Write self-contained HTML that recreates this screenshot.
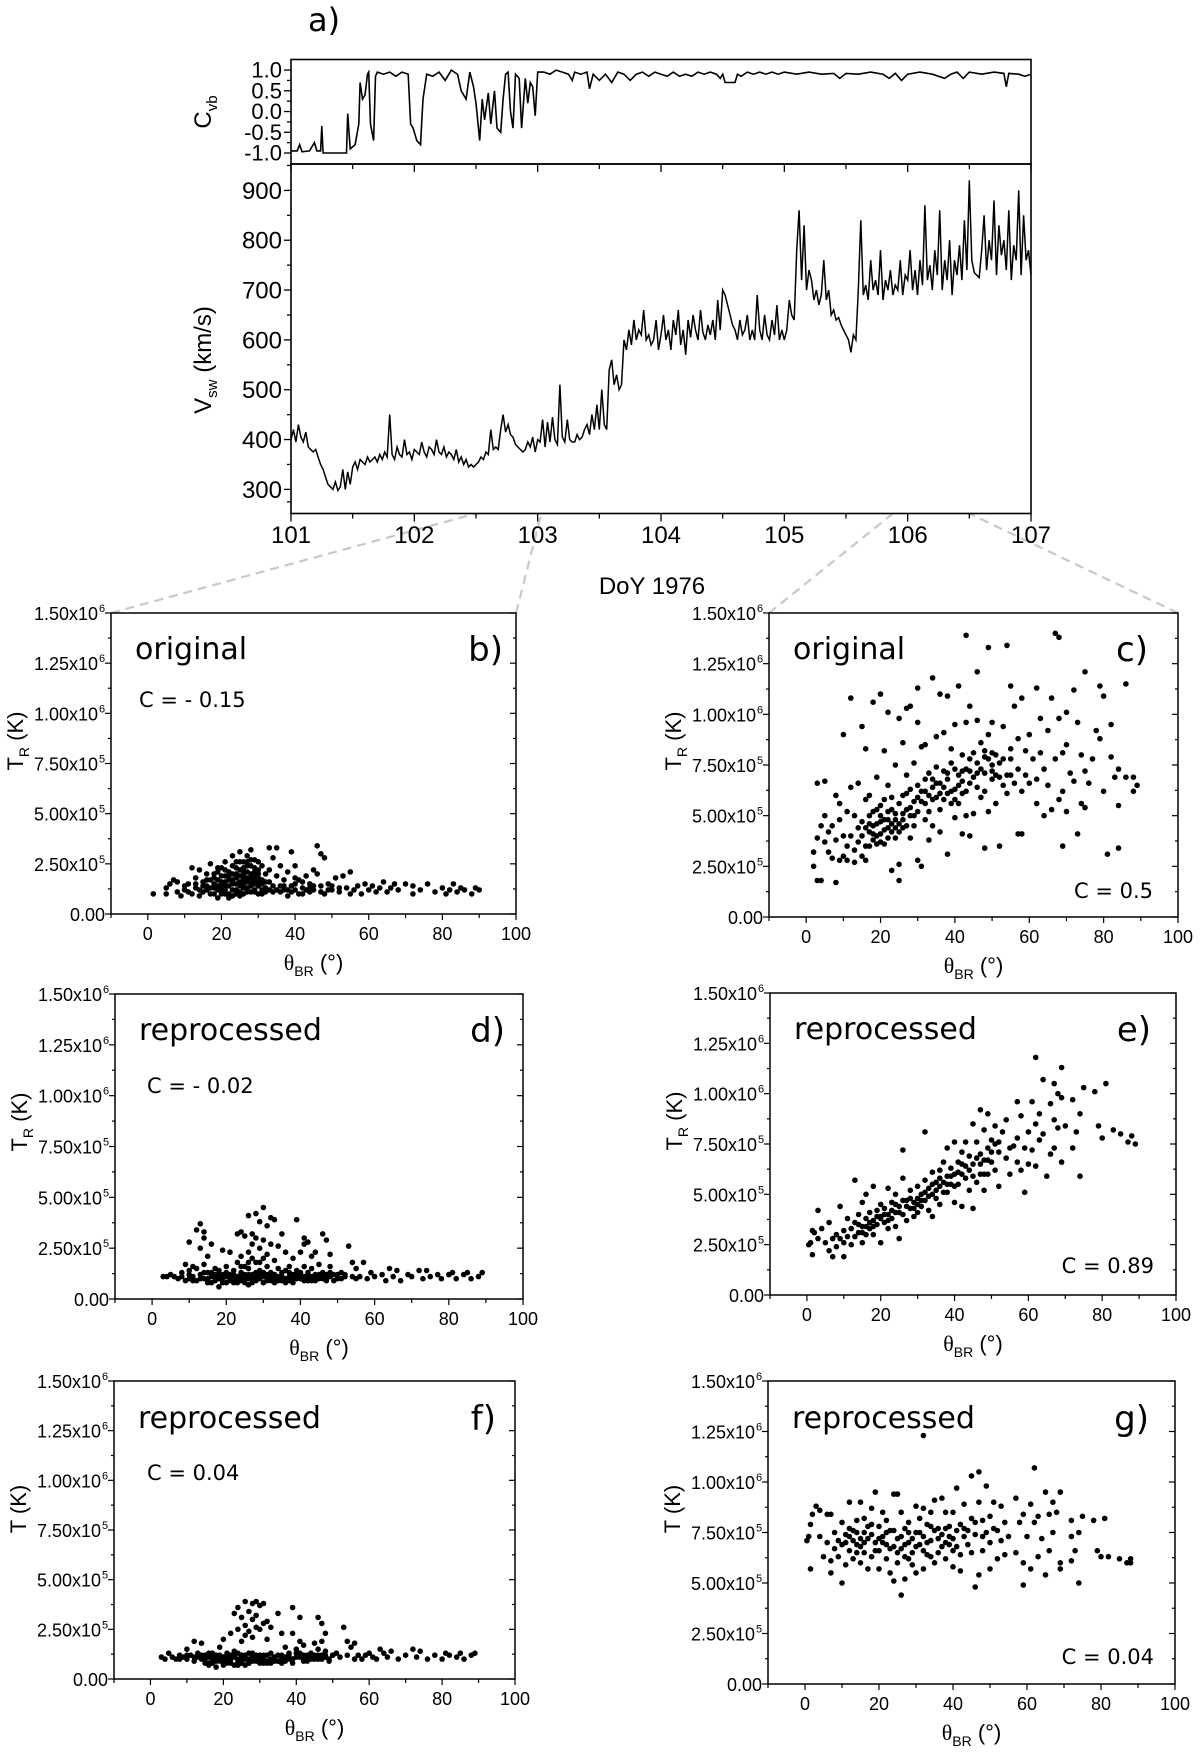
<!DOCTYPE html>
<html><head><meta charset="utf-8"><style>
html,body{margin:0;padding:0;background:#fff;}
svg{display:block;font-family:"Liberation Sans",Arial,sans-serif;}
</style></head><body>
<svg id="fig" width="1200" height="1756" viewBox="0 0 1200 1756" xmlns="http://www.w3.org/2000/svg"></svg>
<script>
// ---------- DATA: panel a ----------
const vswStart = 101, vswStep = 0.02;
const vswValues = [
400,420,395,430,405,395,415,385,380,375,380,365,350,340,325,310,305,300,315,298,305,340,300,335,310,345,355,340,360,355,350,365,355,360,365,355,370,360,375,365,450,370,360,385,370,365,400,370,375,360,
380,375,370,395,375,365,385,380,370,400,375,370,385,365,375,370,360,380,355,365,350,360,345,350,345,350,355,365,360,375,370,420,380,385,380,420,450,415,430,410,405,390,385,380,375,380,395,385,405,375,
400,395,440,385,435,395,445,400,390,510,405,395,440,400,395,395,410,400,405,420,430,410,450,420,470,420,500,430,420,540,560,510,530,500,510,600,580,620,590,640,600,620,610,660,600,610,590,600,640,580,
610,650,600,620,580,640,610,660,590,620,570,640,605,650,620,600,660,615,600,630,610,640,600,680,620,700,690,670,650,630,620,600,640,610,620,650,600,620,600,690,620,600,650,610,600,640,610,670,600,620,
600,620,680,650,640,780,860,720,830,700,740,720,680,700,670,690,760,680,700,650,660,640,645,630,620,610,600,575,610,600,700,840,690,710,680,760,700,720,690,780,680,720,700,740,690,710,700,760,690,730,
720,780,700,740,690,760,710,870,720,750,700,780,730,860,700,760,720,800,690,760,730,790,720,840,740,920,760,735,730,725,780,850,740,800,760,880,730,830,770,800,740,860,720,790,760,900,730,850,760,780,
730];
const cvbTimes = [101,101.05,101.07,101.09,101.15,101.19,101.21,101.24,101.25,101.26,101.45,101.46,101.48,101.52,101.55,101.56,101.58,101.6,101.62,101.63,101.645,101.67,101.685,101.7,101.75,101.8,101.85,101.9,101.95,101.97,101.99,102.02,102.05,102.07,102.1,102.15,102.2,102.25,102.3,102.35,102.38,102.42,102.45,102.48,102.5,102.53,102.55,102.57,102.6,102.62,102.65,102.67,102.7,102.72,102.74,102.76,102.78,102.8,102.82,102.85,102.87,102.9,102.92,102.94,102.96,102.98,103,103.05,103.1,103.15,103.2,103.25,103.28,103.3,103.35,103.4,103.42,103.45,103.5,103.55,103.6,103.65,103.7,103.75,103.8,103.85,103.9,103.95,104,104.05,104.1,104.15,104.2,104.25,104.3,104.35,104.4,104.45,104.48,104.5,104.52,104.6,104.62,104.65,104.7,104.75,104.8,104.85,104.9,104.95,105,105.1,105.2,105.3,105.4,105.45,105.5,105.6,105.7,105.8,105.85,105.9,105.95,106,106.1,106.2,106.3,106.35,106.4,106.45,106.5,106.6,106.7,106.78,106.8,106.82,106.9,106.95,107];
const cvbValues = [-0.95,-0.95,-0.8,-0.97,-0.95,-0.75,-0.95,-0.95,-0.35,-1,-1,-0.05,-0.9,-0.8,-0.3,0.7,0.3,0.4,0.9,0.95,-0.3,-0.7,0.85,0.95,0.9,0.95,0.85,0.95,0.9,-0.3,-0.4,-0.7,-0.8,0.3,0.9,0.85,0.95,0.75,1,0.9,0.5,0.3,0.95,0.6,0.2,-0.7,0.3,-0.2,0.45,-0.3,0.5,-0.4,-0.5,0.3,0.9,0.95,0,-0.4,0.9,0.8,-0.4,0.8,0.2,0.7,0.6,-0.1,0.95,0.95,0.9,1,0.95,0.9,0.75,0.95,0.9,0.95,0.55,0.9,0.75,0.9,0.7,0.95,0.9,0.75,0.9,0.95,0.85,0.95,0.9,0.85,0.95,0.85,0.9,0.85,0.95,0.9,0.95,0.9,0.8,0.9,0.7,0.7,0.9,0.85,0.95,0.9,0.95,0.9,0.95,0.9,0.95,0.9,0.95,0.9,0.92,0.8,0.92,0.9,0.95,0.9,0.8,0.92,0.75,0.9,0.95,0.9,0.8,0.9,0.95,0.8,0.95,0.9,0.95,0.92,0.6,0.92,0.9,0.85,0.9];
const dayTicks = [101,102,103,104,105,106,107];
const vTicks = [300,400,500,600,700,800,900];
const cvbTicks = [-1,-0.5,0,0.5,1];
const cvbTickLabels = ["-1.0","-0.5","0.0","0.5","1.0"];

// ---------- DATA: scatter panels (theta_BR deg, T in 1e5 K) ----------
const bPts = [[1.5,1.0],[5,1.0],[5,1.3],[6,1.5],[7,1.7],[8,1.6],[8,1.1],[9,0.9],[10,1.4],[10,1.2],[11,1.5],[12,1.0],[12,2.3],[13,1.8],[13,1.3],[14,2.2],[14,0.9],[15,1.6],[15,1.1],[16,2.0],[16,1.4],[17,2.5],[17,1.0],[18,1.8],[18,1.3],[19,2.1],[19,0.8],[20,1.6],[20,1.2],[20,2.3],[21,1.0],[21,1.9],[21,2.6],[22,1.4],[22,0.8],[22,2.1],[23,1.7],[23,1.2],[23,2.9],[24,1.0],[24,2.3],[24,1.5],[25,1.9],[25,3.1],[25,0.9],[26,2.6],[26,1.3],[26,1.7],[27,2.9],[27,2.1],[27,1.1],[28,2.4],[28,1.6],[28,3.2],[29,1.9],[29,1.2],[29,2.7],[30,2.2],[30,1.4],[31,1.7],[31,1.0],[32,2.0],[32,1.3],[33,3.3],[33,1.6],[34,2.8],[34,1.1],[35,1.9],[35,3.3],[36,1.4],[36,2.4],[37,1.2],[37,1.7],[38,2.1],[38,0.9],[39,3.1],[39,1.4],[40,1.2],[40,2.4],[41,1.7],[41,1.0],[42,1.3],[43,1.9],[44,1.1],[44,1.5],[45,2.2],[45,1.2],[46,2.0],[46,3.4],[47,3.0],[47,1.4],[48,2.8],[48,1.0],[49,1.5],[50,1.2],[51,1.8],[52,1.1],[53,1.9],[54,1.3],[55,2.1],[55,1.0],[57,1.4],[58,1.0],[59,1.5],[60,1.2],[61,1.4],[62,1.1],[63,1.3],[64,1.6],[65,1.1],[66,1.3],[67,1.5],[68,1.2],[70,1.5],[72,1.0],[72,1.4],[74,1.2],[76,1.5],[78,1.1],[80,1.3],[81,1.0],[82,1.2],[83,1.5],[84,1.1],[85,1.3],[86,1.2],[88,1.0],[89,1.3],[90,1.2],
[18,1.5],[19,1.7],[20,1.9],[21,1.4],[22,1.7],[23,2.0],[24,1.8],[25,1.4],[26,2.1],[27,1.6],[28,2.0],[29,2.3],[30,1.8],[31,2.4],[19,1.2],[21,1.2],[23,1.5],[25,1.6],[27,1.8],[29,1.5],[24,2.6],[26,2.3],[28,2.7],[30,2.6],
[16,1.2],[17,1.7],[18,1.0],[19,1.4],[20,1.0],[20,1.4],[21,1.6],[21,2.2],[22,1.0],[22,1.9],[23,0.9],[23,2.4],[24,1.2],[24,2.0],[25,1.1],[25,2.2],[25,2.6],[26,1.0],[26,1.5],[26,1.9],[27,1.3],[27,2.4],[27,2.6],[28,1.1],[28,1.4],[28,1.8],[29,1.1],[29,1.7],[29,2.1],[30,1.0],[30,1.6],[30,2.0],[31,1.2],[31,1.5],[32,1.1],[32,1.6],[33,1.2],[33,2.2],[34,1.4],[35,1.2],[36,1.1],[37,1.4],[38,1.2],[39,1.1],[40,1.5],[42,1.0],[43,1.2],[45,1.4],[47,1.1],[49,1.2],[11,1.1],[13,1.5],[14,1.2],[15,1.4],[16,1.7],[17,1.3],[18,2.0],[19,2.3],[40,1.8],[42,1.6],[44,1.3],[50,1.4],[52,1.3],[56,1.2]];
const cPts = [[2,2.5],[2,3.2],[3,1.8],[3,3.9],[3,6.6],[4,4.5],[4,1.8],[5,5.0],[5,3.7],[5,6.7],[6,4.2],[6,3.2],[7,2.9],[7,4.5],[8,1.7],[8,3.8],[8,6.0],[9,2.8],[9,4.8],[9,5.6],[10,3.0],[10,4.0],[10,9.0],[11,2.8],[11,5.2],[11,3.5],[12,10.8],[12,4.0],[12,6.4],[13,2.7],[13,3.3],[13,5.0],[14,4.4],[14,3.7],[14,6.6],[15,9.4],[15,3.0],[15,4.7],[16,5.8],[16,2.8],[16,8.3],[17,4.2],[17,3.5],[17,6.0],[18,10.6],[18,5.2],[18,3.8],[19,4.6],[19,6.9],[19,3.6],[20,5.5],[20,11.0],[20,4.1],[21,3.6],[21,5.8],[21,8.2],[22,4.8],[22,6.5],[22,10.1],[23,4.2],[23,2.3],[23,5.9],[24,3.9],[24,7.5],[24,5.1],[25,9.8],[25,4.6],[25,2.6],[25,1.8],[26,8.6],[26,6.0],[26,4.4],[27,10.3],[27,5.3],[27,7.0],[28,10.4],[28,3.9],[28,6.3],[29,5.0],[29,7.6],[29,4.5],[30,11.3],[30,9.6],[30,2.8],[30,6.5],[31,5.7],[31,8.4],[31,2.5],[32,6.8],[32,4.8],[32,8.5],[33,5.2],[33,7.1],[33,3.8],[34,11.8],[34,6.4],[34,4.5],[35,8.9],[35,5.9],[35,7.4],[36,11.0],[36,6.6],[36,4.2],[37,9.1],[37,5.8],[37,7.2],[38,10.9],[38,3.1],[38,6.1],[39,8.3],[39,5.6],[39,7.6],[40,9.5],[40,6.3],[40,4.9],[41,11.4],[41,7.0],[41,5.6],[42,8.0],[42,6.1],[42,4.1],[43,13.9],[43,9.6],[43,7.3],[43,5.0],[44,10.4],[44,6.6],[44,4.0],[45,8.1],[45,5.1],[46,12.1],[46,9.7],[46,7.1],[47,5.9],[47,8.6],[48,3.4],[48,7.9],[48,6.2],[49,13.3],[49,9.0],[49,5.2],[50,6.8],[50,9.6],[50,7.5],[51,8.0],[51,5.6],[52,3.5],[52,6.9],[53,9.4],[53,7.8],[54,13.4],[54,6.1],[55,11.4],[55,8.3],[55,7.0],[56,10.4],[56,6.6],[57,8.8],[57,4.1],[58,10.8],[58,4.1],[58,6.2],[59,8.2],[59,7.0],[60,9.0],[60,6.6],[61,7.8],[62,11.3],[62,6.8],[62,5.6],[63,9.8],[63,8.1],[64,5.0],[64,7.3],[65,6.5],[65,9.2],[66,10.8],[66,5.3],[67,14.0],[67,7.8],[68,13.8],[68,9.8],[68,5.8],[69,8.1],[69,3.5],[69,6.2],[70,10.1],[70,8.5],[70,5.2],[71,7.1],[72,11.2],[72,6.7],[73,9.6],[73,4.1],[74,8.0],[74,5.6],[75,12.1],[75,7.2],[75,5.4],[76,6.6],[77,7.8],[78,9.2],[79,11.4],[79,8.8],[80,10.9],[80,6.2],[81,3.1],[82,9.5],[82,7.9],[83,6.9],[84,5.5],[84,3.4],[84,7.3],[86,11.5],[86,6.9],[88,6.2],[88,6.9],[89,6.5],
[16,4.4],[17,5.0],[18,4.5],[19,5.3],[20,4.7],[21,4.3],[22,5.2],[23,4.6],[24,4.4],[26,5.1],[28,5.4],[30,5.9],[32,6.2],[34,6.8],[36,6.1],[38,6.8],[40,7.3],[42,7.2],[44,7.8],[46,6.4],[48,7.1],[50,8.1],[52,7.6],[54,7.0],
[15,4.0],[16,3.5],[17,4.6],[18,4.1],[19,4.0],[20,3.7],[20,5.0],[21,4.8],[22,4.4],[22,3.9],[23,5.3],[24,4.8],[25,5.6],[25,4.2],[26,4.8],[27,4.5],[27,6.1],[28,5.0],[29,5.7],[30,5.2],[31,6.2],[32,5.6],[33,6.0],[34,5.8],[35,6.6],[36,5.3],[37,6.4],[38,7.1],[39,6.2],[40,5.8],[41,6.5],[42,6.7],[43,6.2],[44,7.2],[45,6.9],[46,7.6],[47,7.3],[48,8.2],[49,7.8],[50,7.2],[51,7.0],[53,6.5],[55,7.8],[57,7.3]];
const dPts = [[3,1.1],[4,1.1],[5,1.2],[6,1.1],[7,1.0],[8,1.1],[8,1.3],[9,1.7],[9,0.9],[10,2.8],[10,1.4],[10,1.0],[11,1.6],[11,1.1],[12,3.4],[12,1.5],[12,0.9],[13,3.7],[13,2.5],[13,1.2],[14,3.3],[14,3.0],[14,1.7],[14,1.0],[15,2.1],[15,1.3],[15,0.8],[16,2.7],[16,1.1],[17,1.5],[17,0.9],[18,1.2],[18,0.6],[19,2.4],[19,1.0],[20,1.6],[20,0.8],[21,2.3],[21,1.2],[22,1.4],[22,0.8],[23,3.2],[23,1.0],[23,1.8],[24,3.3],[24,2.1],[24,1.3],[25,3.1],[25,1.6],[25,0.8],[26,4.1],[26,2.3],[26,1.2],[27,3.2],[27,2.7],[27,1.0],[28,4.2],[28,3.0],[28,1.8],[28,0.9],[29,3.8],[29,2.5],[29,1.4],[30,4.5],[30,2.9],[30,2.0],[30,1.1],[31,3.6],[31,2.2],[31,0.9],[32,4.0],[32,2.7],[32,1.3],[33,3.9],[33,1.9],[33,1.0],[34,2.6],[34,1.5],[35,3.2],[35,1.1],[36,2.3],[36,1.4],[37,1.6],[37,0.9],[38,2.0],[38,1.2],[39,3.9],[39,1.4],[40,2.3],[40,1.0],[41,3.0],[41,1.6],[41,2.7],[42,2.8],[42,1.1],[43,2.1],[43,1.5],[44,2.3],[44,1.0],[45,1.7],[46,1.3],[46,3.2],[47,2.9],[47,1.0],[48,2.2],[48,1.6],[49,1.2],[50,1.0],[51,1.3],[52,1.1],[53,2.6],[54,1.8],[55,1.5],[56,1.1],[57,1.8],[58,1.0],[59,1.3],[60,1.1],[62,1.2],[63,0.9],[64,1.5],[65,1.1],[66,1.4],[67,0.9],[69,1.2],[70,1.1],[72,1.4],[73,1.0],[74,1.4],[75,1.1],[77,1.2],[78,1.0],[80,1.2],[81,1.3],[82,1.0],[84,1.2],[85,1.3],[86,1.0],[88,1.1],[89,1.3],
[15,1.0],[17,1.1],[19,1.2],[21,0.9],[23,1.1],[25,1.2],[27,0.8],[29,1.0],[31,1.2],[33,0.8],[35,0.9],[37,1.1],[39,1.0],[41,1.1],[43,0.9],[45,1.0],[47,1.2],[49,0.9],[16,0.8],[18,1.0],[20,1.1],[22,1.2],[24,0.9],[26,0.7],[28,1.3],[30,0.8],[32,0.9],[34,1.1],[36,0.8],[38,1.0],[40,1.3],[42,0.9],[44,1.2],[46,1.0],[48,1.1],[50,1.2],
[10,1.2],[11,0.9],[13,1.0],[14,1.3],[16,1.3],[17,1.2],[18,1.4],[19,0.8],[20,1.3],[21,1.0],[22,1.0],[23,0.8],[24,1.1],[25,1.0],[26,1.0],[26,1.5],[27,1.2],[28,1.1],[29,1.2],[30,1.3],[31,1.0],[32,1.1],[33,1.2],[34,0.9],[35,1.3],[36,1.0],[37,1.3],[38,0.8],[39,1.2],[40,1.1],[41,0.9],[42,1.3],[43,1.1],[44,0.9],[45,1.2],[46,1.1],[47,0.9],[48,1.3],[51,1.0],[52,1.2],[54,1.1],[55,1.0],[26,1.8],[27,2.0],[29,1.8],[31,1.6],[24,1.6]];
const ePts = [[0.5,2.5],[1,2.6],[1.5,3.2],[1.5,2.0],[2,3.1],[3,4.2],[3,2.8],[4,3.3],[5,2.6],[6,3.6],[6,2.2],[7,2.8],[7,1.9],[8,3.0],[8,2.4],[9,4.4],[9,2.8],[10,3.2],[10,1.9],[10,2.6],[11,3.8],[11,2.9],[12,3.3],[12,2.5],[13,5.7],[13,3.6],[13,2.9],[14,3.1],[14,4.0],[15,4.6],[15,3.4],[15,2.6],[16,5.0],[16,3.8],[16,3.0],[17,4.1],[17,3.3],[18,5.4],[18,3.7],[18,3.0],[19,4.2],[19,3.5],[20,3.9],[20,2.6],[20,4.5],[21,4.3],[21,3.6],[22,5.3],[22,4.0],[22,3.3],[23,4.6],[23,3.8],[24,5.0],[24,4.1],[24,3.4],[25,4.4],[25,2.8],[26,7.2],[26,5.8],[26,4.0],[27,4.7],[27,3.7],[28,5.2],[28,4.3],[29,4.6],[29,3.9],[30,5.4],[30,4.8],[30,4.1],[31,5.0],[31,4.4],[32,8.1],[32,5.7],[32,4.7],[33,5.3],[33,4.2],[34,6.1],[34,5.0],[34,3.9],[35,5.6],[35,4.8],[36,6.2],[36,5.4],[36,4.5],[37,6.6],[37,5.1],[38,7.3],[38,5.9],[38,5.1],[39,6.3],[39,5.5],[40,7.6],[40,6.0],[40,4.6],[41,6.6],[41,5.5],[42,7.1],[42,4.4],[42,6.0],[43,7.6],[43,5.8],[44,6.9],[44,5.2],[45,8.5],[45,6.5],[45,4.3],[46,7.6],[46,5.6],[47,9.2],[47,7.0],[47,6.0],[48,8.2],[48,6.7],[48,5.2],[49,9.0],[49,7.3],[49,6.0],[50,7.7],[50,6.6],[51,8.4],[51,7.5],[51,6.2],[52,7.1],[52,5.4],[53,8.1],[54,8.7],[54,6.8],[55,7.3],[55,6.0],[56,7.4],[57,9.6],[57,7.8],[57,6.6],[58,8.9],[58,6.2],[59,7.3],[59,5.1],[60,8.1],[60,6.5],[61,9.6],[61,7.2],[62,8.5],[62,6.4],[62,11.8],[63,9.0],[63,7.7],[64,10.7],[64,8.0],[65,5.9],[66,9.5],[66,7.0],[67,10.5],[67,8.7],[67,7.3],[68,10.0],[68,8.3],[69,11.3],[69,9.8],[69,6.6],[70,8.4],[72,9.7],[72,7.3],[73,8.1],[74,9.0],[74,5.9],[75,10.3],[78,10.1],[79,8.4],[80,7.8],[81,10.5],[83,8.2],[85,8.0],[87,7.6],[88,7.9],[89,7.5],
[14,3.5],[16,3.4],[18,3.4],[20,3.8],[22,3.7],[24,4.5],[26,4.7],[28,4.8],[30,4.5],[32,5.1],[34,5.5],[36,5.8],[38,5.5],[40,5.4],[42,6.5],[44,6.2],[46,6.8],[48,6.0],[50,7.1],[52,7.6],
[15,3.1],[17,3.6],[19,3.9],[21,4.0],[23,4.2],[25,4.1],[27,4.4],[29,4.3],[31,4.7],[33,4.9],[35,5.2],[37,5.6],[39,5.9],[41,6.1],[43,6.4],[45,5.9],[47,6.5],[49,6.7]];
const fPts = [[3,1.1],[4,1.0],[5,1.3],[6,1.1],[7,1.0],[8,1.2],[9,1.1],[10,1.5],[10,1.0],[11,1.2],[12,1.9],[12,1.1],[13,1.3],[14,1.8],[14,1.0],[15,1.2],[15,0.8],[16,1.1],[16,0.7],[17,1.3],[17,1.0],[18,0.6],[18,1.2],[19,1.6],[19,0.9],[20,2.0],[20,1.1],[20,0.7],[21,1.3],[21,0.8],[22,2.3],[22,1.0],[23,3.3],[23,1.4],[23,0.7],[24,3.6],[24,2.5],[24,1.0],[25,3.1],[25,1.9],[25,1.2],[25,0.8],[26,3.9],[26,2.7],[26,2.2],[26,1.0],[27,3.4],[27,2.4],[27,1.3],[27,0.8],[28,3.8],[28,3.0],[28,2.1],[28,1.1],[29,3.9],[29,3.2],[29,2.6],[29,0.9],[30,3.7],[30,2.5],[30,1.2],[31,3.8],[31,2.8],[31,1.0],[32,2.9],[32,2.0],[32,0.8],[33,2.6],[33,1.3],[34,1.1],[35,3.3],[35,0.9],[36,2.3],[36,1.2],[37,1.6],[37,1.0],[38,1.3],[39,3.6],[39,2.3],[39,1.0],[40,1.5],[41,3.1],[41,1.9],[42,1.2],[42,1.7],[43,1.0],[44,1.3],[45,1.8],[46,3.1],[46,1.5],[47,2.8],[47,1.9],[48,1.4],[48,2.3],[49,1.0],[50,1.2],[51,1.3],[53,2.6],[54,1.9],[55,1.6],[56,1.8],[57,1.2],[58,1.0],[60,1.3],[62,1.0],[63,1.5],[64,1.3],[65,1.1],[66,1.4],[68,1.0],[70,1.2],[72,1.5],[73,1.1],[74,1.4],[76,1.0],[78,1.2],[80,1.0],[81,1.3],[82,1.2],[84,1.1],[85,1.3],[86,1.0],[88,1.2],[89,1.3],
[15,1.0],[17,1.1],[19,1.2],[21,0.9],[23,1.1],[25,1.2],[27,0.8],[29,1.0],[31,1.2],[33,0.8],[35,0.9],[37,1.1],[39,1.0],[41,1.1],[43,0.9],[45,1.0],[47,1.2],[49,0.9],[16,0.8],[18,1.0],[20,1.1],[22,1.2],[24,0.9],[26,0.7],[28,1.3],[30,0.8],[32,0.9],[34,1.1],[36,0.8],[38,1.0],[40,1.3],[42,0.9],[44,1.2],[46,1.0],[48,1.1],[50,1.2],
[8,1.0],[10,1.2],[12,0.9],[13,1.1],[14,1.2],[16,1.3],[17,0.8],[18,0.9],[19,1.1],[20,0.9],[21,1.1],[22,0.8],[23,1.2],[24,1.3],[24,0.7],[25,1.0],[26,1.2],[27,1.0],[28,0.9],[29,1.2],[30,1.0],[31,0.8],[32,1.2],[33,1.0],[34,0.9],[35,1.2],[36,1.0],[37,0.9],[38,1.2],[39,0.8],[40,1.1],[41,1.3],[42,1.0],[43,1.2],[44,1.0],[45,1.2],[46,1.2],[47,1.0],[48,1.2],[52,1.1],[54,1.2],[56,1.0],[59,1.2],[61,1.1]];
const gPts = [[0.5,7.1],[1,7.3],[1.5,5.7],[1.5,7.9],[2,8.4],[3,8.8],[4,8.6],[4,7.3],[5,6.3],[6,7.0],[6,8.4],[7,5.5],[7,6.1],[7,8.4],[8,7.5],[8,6.7],[9,7.1],[9,6.3],[10,8.0],[10,5.0],[10,6.9],[11,7.4],[11,5.9],[12,9.0],[12,7.7],[12,6.6],[13,7.1],[13,6.2],[14,8.1],[14,6.9],[14,7.5],[15,9.0],[15,6.0],[15,7.2],[16,8.2],[16,6.5],[17,5.7],[17,7.8],[18,8.7],[18,6.3],[19,7.0],[19,9.5],[20,7.8],[20,5.7],[20,6.6],[21,8.5],[21,7.3],[22,6.2],[22,8.1],[23,5.5],[23,7.6],[24,9.4],[24,6.8],[24,5.1],[25,9.4],[25,7.2],[25,6.0],[26,4.4],[26,8.5],[26,6.7],[27,7.7],[27,5.2],[27,6.3],[28,8.0],[28,7.0],[29,6.5],[29,5.9],[30,8.8],[30,7.5],[30,5.5],[31,8.2],[31,6.9],[32,12.3],[32,8.7],[32,7.3],[32,5.7],[33,7.9],[33,6.4],[34,8.5],[34,7.1],[35,9.1],[35,6.0],[36,7.7],[36,6.5],[37,9.2],[37,7.4],[38,8.5],[38,6.2],[39,7.8],[39,6.9],[40,8.5],[40,7.2],[40,5.8],[41,9.7],[41,7.6],[42,6.4],[42,5.6],[43,8.9],[43,7.3],[44,6.9],[45,10.3],[45,8.2],[45,6.5],[46,4.8],[46,7.4],[47,10.5],[47,9.0],[47,5.4],[48,8.1],[48,6.6],[49,9.8],[49,7.5],[50,8.3],[50,5.7],[51,9.0],[51,7.7],[52,6.2],[53,8.8],[53,7.1],[54,6.4],[55,7.3],[57,9.2],[57,6.5],[58,8.0],[59,8.4],[59,4.9],[59,6.0],[60,7.3],[61,8.9],[61,5.7],[62,10.7],[62,8.0],[63,8.3],[63,6.3],[64,7.2],[65,9.5],[65,5.4],[66,8.4],[66,6.6],[67,9.0],[67,7.5],[68,8.5],[69,9.5],[69,5.7],[69,6.0],[72,8.1],[72,7.3],[72,6.1],[73,6.6],[74,7.5],[74,5.0],[75,8.3],[78,8.1],[79,6.6],[80,6.3],[81,8.2],[82,6.3],[85,6.2],[87,6.0],[88,6.2],[88,6.0],
[11,7.0],[13,7.6],[15,6.8],[17,7.2],[19,6.6],[21,7.0],[23,6.7],[25,6.5],[27,6.9],[29,7.2],[31,7.5],[33,7.0],[35,7.6],[37,6.8],[39,7.3],[41,6.8],[43,7.7],[16,7.5],[18,7.9],[22,7.5],[28,6.2],[34,6.3],[38,7.0],
[12,7.3],[14,6.5],[16,7.0],[18,7.4],[20,7.2],[22,6.9],[24,7.6],[26,7.3],[28,7.5],[30,6.8],[32,6.6],[34,7.8],[36,7.2],[38,7.7],[40,6.6],[42,7.9],[44,7.6],[46,8.0],[48,7.3],[50,7.0],[52,7.6],[54,8.0]];
const sxTicks = [0,20,40,60,80,100];
const syTicks = [0,2.5,5,7.5,10,12.5,15];
const syTickMant = ["0.00","2.50x10","5.00x10","7.50x10","1.00x10","1.25x10","1.50x10"];
const syTickExp = ["","5","5","5","6","6","6"];

// ---------- rendering ----------
const NS = "http://www.w3.org/2000/svg";
const svg = document.getElementById('fig');
function mk(tag, attrs, parent) {
  const e = document.createElementNS(NS, tag);
  for (const k in attrs) e.setAttribute(k, attrs[k]);
  (parent || svg).appendChild(e);
  return e;
}
function txt(parent, x, y, s, size, anchor, extra) {
  const t = mk('text', Object.assign({x:x, y:y, 'font-size':size, 'text-anchor':anchor||'start', fill:'#000'}, extra||{}), parent);
  t.textContent = s;
  return t;
}

const conn = mk('g', {stroke:'#c8c8c8','stroke-width':2.2,'stroke-dasharray':'9,6',fill:'none'});



const A = {L:291, R:1031, T:59.5, M:164, B:513.5};
const tx = d => A.L + (d - 101) / 6 * (A.R - A.L);
const vy = v => A.B - (v - 251.6) / (953 - 251.6) * (A.B - A.M);
const cy = c => A.M - (c + 1.265) / 2.52 * (A.M - A.T);

[[111,613,tx(102.5),A.B],[516,613,tx(103.03),A.B],[769,613,tx(105.88),A.B],[1178,613,tx(106.5),A.B]].forEach(l=>{
  const ln = mk('line',{x1:l[0],y1:l[1],x2:l[2],y2:l[3]},conn);
  
  
});

const ga = mk('g', {});


const la = txt(ga, 308, 31, 'a)', 32, 'start', {'font-family':'"DejaVu Sans","Liberation Sans",sans-serif'});



let dC = cvbTimes.map((t,i)=>(i?'L':'M')+tx(t).toFixed(1)+','+cy(cvbValues[i]).toFixed(1)).join('');
const cvbLine = mk('path', {d:dC, fill:'none', stroke:'#000','stroke-width':1.6}, ga);


let dV = vswValues.map((v,i)=>(i?'L':'M')+tx(vswStart+i*vswStep).toFixed(1)+','+vy(v).toFixed(1)).join('');
const vLine = mk('path', {d:dV, fill:'none', stroke:'#000','stroke-width':1.5}, ga);



const fr1 = mk('rect',{x:A.L,y:A.T,width:A.R-A.L,height:A.M-A.T,fill:'none',stroke:'#000','stroke-width':1.6},ga);


const fr2 = mk('rect',{x:A.L,y:A.M,width:A.R-A.L,height:A.B-A.M,fill:'none',stroke:'#000','stroke-width':1.6},ga);



const ticksA = mk('g',{stroke:'#000','stroke-width':1.3},ga);


cvbTicks.forEach((c,i)=>{
  mk('line',{x1:A.L-7,y1:cy(c),x2:A.L,y2:cy(c)},ticksA);
  if (i<cvbTicks.length-1) mk('line',{x1:A.L-4,y1:cy(c+0.25),x2:A.L,y2:cy(c+0.25)},ticksA);
  const t = txt(ga, A.L-9, cy(c)+7.5, cvbTickLabels[i], 22, 'end');
  
  
});
vTicks.forEach((v,i)=>{
  mk('line',{x1:A.L-7,y1:vy(v),x2:A.L,y2:vy(v)},ticksA);
  mk('line',{x1:A.L-4,y1:vy(v+50),x2:A.L,y2:vy(v+50)},ticksA);
  const t = txt(ga, A.L-9, vy(v)+8.5, String(v), 24, 'end');
  
  
});
mk('line',{x1:A.L-4,y1:vy(275),x2:A.L,y2:vy(275)},ticksA);
dayTicks.forEach((d,i)=>{
  mk('line',{x1:tx(d),y1:A.B,x2:tx(d),y2:A.B+8},ticksA);
  mk('line',{x1:tx(d),y1:A.M,x2:tx(d),y2:A.M+8},ticksA);
  if (i<dayTicks.length-1){
    mk('line',{x1:tx(d+0.5),y1:A.B,x2:tx(d+0.5),y2:A.B+5},ticksA);
    mk('line',{x1:tx(d+0.5),y1:A.M,x2:tx(d+0.5),y2:A.M+5},ticksA);
  }
  const t = txt(ga, tx(d), 543, String(d), 24, 'middle');
  
  
});
const xt = txt(ga, 652, 594, 'DoY 1976', 24, 'middle');


const vt = mk('text',{x:0,y:0,'font-size':24,'text-anchor':'middle',transform:'translate(211,360) rotate(-90)'},ga);
vt.innerHTML = 'V<tspan font-size="15" dy="6">sw</tspan><tspan dy="-6"> (km/s)</tspan>';


const ct = mk('text',{x:0,y:0,'font-size':24,'text-anchor':'middle',transform:'translate(211,112) rotate(-90)'},ga);
ct.innerHTML = 'C<tspan font-size="15" dy="6">vb</tspan>';



const panels = [
 {id:'b',L:111,R:516,T:613,B:914,pts:bPts,yt:'R',lbl:'original',lblY:46,cTxt:'C = - 0.15',cTop:true,cX:28,cY:94,letX:13},
 {id:'c',L:769,R:1178,T:613,B:917,pts:cPts,yt:'R',lbl:'original',lblY:46,cTxt:'C = 0.5',cTop:false,cX:25,cY:19,letX:30},
 {id:'d',L:115,R:523,T:994,B:1299,pts:dPts,yt:'R',lbl:'reprocessed',lblY:46,cTxt:'C = - 0.02',cTop:true,cX:32,cY:99,letX:18},
 {id:'e',L:770,R:1176,T:993,B:1295,pts:ePts,yt:'R',lbl:'reprocessed',lblY:46,cTxt:'C = 0.89',cTop:false,cX:22,cY:22,letX:25},
 {id:'f',L:114,R:515,T:1381,B:1679,pts:fPts,yt:'',lbl:'reprocessed',lblY:47,cTxt:'C = 0.04',cTop:true,cX:33,cY:99,letX:19},
 {id:'g',L:768,R:1175,T:1381,B:1684,pts:gPts,yt:'',lbl:'reprocessed',lblY:47,cTxt:'C = 0.04',cTop:false,cX:21,cY:20,letX:26}
];
const CAL = '"DejaVu Sans","Liberation Sans",sans-serif';
panels.forEach(p=>{
  const sx = v => p.L + (v + 10) / 110 * (p.R - p.L);
  const sy = v => p.B - v / 15 * (p.B - p.T);
  const g = mk('g',{});
  
  
  const bg = mk('rect',{x:p.L,y:p.T,width:p.R-p.L,height:p.B-p.T,fill:'#fff',stroke:'#000','stroke-width':1.5},g);
  
  
  const pg = mk('g',{fill:'#000'},g);
  
  
  p.pts.forEach(q=>{
    const c = mk('circle',{cx:sx(q[0]).toFixed(1),cy:sy(q[1]).toFixed(1),r:2.8},pg);
    
    
  });
  const tk = mk('g',{stroke:'#000','stroke-width':1.2},g);
  
  
  syTicks.forEach((v,i)=>{
    mk('line',{x1:p.L-6,y1:sy(v),x2:p.L,y2:sy(v)},tk);
    mk('line',{x1:p.R-6,y1:sy(v),x2:p.R,y2:sy(v)},tk);
    if (i<syTicks.length-1){
      mk('line',{x1:p.L-3,y1:sy(v+1.25),x2:p.L,y2:sy(v+1.25)},tk);
      mk('line',{x1:p.R-3,y1:sy(v+1.25),x2:p.R,y2:sy(v+1.25)},tk);
    }
    const t = mk('text',{x:p.L-13,y:sy(v)+7,'font-size':18,'text-anchor':'end'},g);
    t.textContent = syTickMant[i];
    
    
    if (syTickExp[i]) {
      const e = txt(g, p.L-12, sy(v)-1, syTickExp[i], 11, 'start');
      
      
    } else { t.setAttribute('x', p.L-6); }
  });
  for (let v=-10; v<=100; v+=10){
    const major = sxTicks.indexOf(v) >= 0;
    mk('line',{x1:sx(v),y1:p.B,x2:sx(v),y2:p.B+(major?6:4)},tk);
  }
  sxTicks.forEach(v=>{
    const t = txt(g, sx(v), p.B+26, String(v), 18, 'middle');
    
    
  });
  const xt = mk('text',{x:(p.L+p.R)/2,y:p.B+56,'font-size':22,'text-anchor':'middle'},g);
  xt.innerHTML = '<tspan font-family="\'Liberation Serif\',serif">θ</tspan><tspan font-size="14" dy="6">BR</tspan><tspan dy="-6"> (°)</tspan>';
  
  
  const yt = mk('text',{x:0,y:0,'font-size':22,'text-anchor':'middle',transform:'translate('+(p.L-88)+','+(p.T+128)+') rotate(-90)'},g);
  yt.innerHTML = p.yt ? 'T<tspan font-size="14" dy="6">R</tspan><tspan dy="-6"> (K)</tspan>' : 'T (K)';
  
  
  const lb = txt(g, p.L+24, p.T+p.lblY, p.lbl, 30, 'start', {'font-family':CAL});
  
  
  const le = txt(g, p.R-p.letX, p.T+p.lblY+2, p.id+')', 34, 'end', {'font-family':CAL});
  
  
  const cc = p.cTop ? txt(g, p.L+p.cX, p.T+p.cY, p.cTxt, 21, 'start', {'font-family':CAL})
                    : txt(g, p.R-p.cX, p.B-p.cY, p.cTxt, 21, 'end', {'font-family':CAL});
  
  
});
</script>
</body></html>
